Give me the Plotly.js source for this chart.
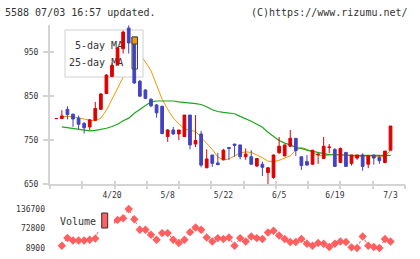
<!DOCTYPE html>
<html><head><meta charset="utf-8">
<script src="https://cdn.plot.ly/plotly-3.0.1.min.js"></script>
<style>html,body{margin:0;padding:0;background:#fff}#c{width:420px;height:259px}</style>
</head><body><div id="c"></div>
<script>
// ---- data ----
const tickDays   = [10, 20, 30, 40, 50, 60];
const tickLabels = ['4/20', '5/8', '5/22', '6/5', '6/19', '7/3'];
const openP  = [799,799,820,809,800,788,780,795,820,856,895,922,958,1005,983,884,864,843,830,827,758,773,764,758,807,741,764,687,716,698,705,733,741,739,712,712,691,695,676,665,721,714,736,754,712,701,695,717,708,733,729,699,722,697,709,716,695,716,711,699,727];
const highP  = [799,818,827,810,806,791,798,837,857,900,925,962,999,1011,985,887,866,845,832,828,775,780,773,807,807,807,771,729,716,721,730,733,741,739,731,727,708,701,689,717,757,739,773,754,712,716,727,718,757,741,731,733,722,716,716,720,716,716,716,725,782];
const lowP   = [799,798,797,780,775,765,773,794,819,855,893,921,947,947,878,848,843,825,801,763,746,762,750,757,729,734,688,686,689,694,704,705,712,706,705,694,689,668,648,662,719,713,734,714,682,692,694,696,708,720,690,698,690,692,705,680,686,694,696,697,727];
const closeP = [799,805,808,798,786,778,796,822,855,898,920,959,996,971,880,850,845,828,812,765,773,764,773,807,739,749,693,707,697,694,727,731,738,712,718,695,708,688,687,716,736,739,754,726,692,693,727,718,736,734,690,731,690,716,716,690,714,709,703,725,782];
const ma5    = [null,803,804,803,801,798,795,794,800,818,843,870,893,915,935,945,928,908,873,843,820,800,787,776,772,770,756,742,729,711,705,707,715,721,723,722,716,710,702,701,704,709,714,727,733,729,721,715,714,716,718,716,716,714,712,713,714,713,712,713,727];
const ma25   = [null,780,778,777,774,772,771,772,774,777,781,786,794,800,811,820,830,837,839,839,839,839,837,836,835,833,831,826,819,815,813,812,810,804,799,793,786,779,768,758,749,743,739,733,731,727,724,721,719,717,717,716,716,715,715,715,715,715,715,715,715];
const volume = [null,16400,41400,33600,33600,33600,35900,40100,85000,100000,95000,101000,106500,136700,103200,68400,68400,52100,35900,57700,57700,35900,25200,35900,60900,75900,68400,43400,30500,41300,38100,43500,16400,41300,30500,46700,41300,38100,59700,65200,50000,38100,28300,28300,38100,22900,16400,25100,22900,12100,22900,30500,28300,11000,8900,46700,16400,12100,8900,38100,30500];
const priceTicks = [650, 750, 850, 950];
const volTicks   = [8900, 72800, 136700];
const headerLeft  = '5588 07/03 16:57 updated.';
const headerRight = '(C)https://www.rizumu.net/';

// ---- geometry / style ----
const idx = openP.map((_, i) => i);
const W = 420, H = 259, L = 50, R = 15, T = 25, B = 11;
const PW = W - L - R, PH = H - T - B;
const px = x => (x - L) / PW;
const py = y => (H - B - y) / PH;
const xr = [-1.13, 62.6];
const yr = [650, 1012];
const FONT = 'DejaVu Sans Mono';
const AX = '#d4d4d4';
const TXT = '#333333';
const UP = '#dd0000', DOWN = '#4343c0';

const traces = [
  {type:'scatter', mode:'lines', x: idx, y: ma5, xaxis:'x', yaxis:'y',
   line:{color:'#f39800', width:1}, hoverinfo:'skip'},
  {type:'scatter', mode:'lines', x: idx, y: ma25, xaxis:'x', yaxis:'y',
   line:{color:'#1ea51e', width:1.2}, hoverinfo:'skip'},
  // legend box (pixel coordinates on a helper overlay axis)
  {type:'scatter', mode:'lines', x:[65,143,143,65,65], y:[30,30,77,77,30], xaxis:'x2', yaxis:'y2',
   fill:'toself', fillcolor:'#ffffff', line:{color:'#d0d0d0', width:1}, hoverinfo:'skip'},
  {type:'scatter', mode:'text', x:[75,69], y:[46,63], text:['5-day MA','25-day MA'], xaxis:'x2', yaxis:'y2',
   textposition:'middle right', textfont:{family:FONT, size:10, color:TXT}, hoverinfo:'skip'},
  {type:'candlestick', x: idx, open: openP, high: highP, low: lowP, close: closeP,
   xaxis:'x3', yaxis:'y3', whiskerwidth:0,
   increasing:{line:{color:UP, width:1}, fillcolor:UP},
   decreasing:{line:{color:DOWN, width:1}, fillcolor:DOWN}, hoverinfo:'skip'},
  {type:'scatter', mode:'lines+markers', x: idx, y: volume, xaxis:'x4', yaxis:'y4',
   line:{color:'#ff5f5f', width:1, dash:'dot'},
   marker:{symbol:'diamond', size:6.5, color:'#ff5f5f'}, cliponaxis:false, hoverinfo:'skip'}
];

const tickFont = {family:FONT, size:8, color:TXT};
const base = {showgrid:false, zeroline:false, fixedrange:true};
const layout = {
  width:W, height:H, margin:{l:L, r:R, t:T, b:B},
  paper_bgcolor:'#ffffff', plot_bgcolor:'rgba(0,0,0,0)',
  showlegend:false, boxgap:0.3,
  xaxis: Object.assign({}, base, {domain:[0,1], range:xr, anchor:'y', showline:true, linecolor:AX, linewidth:2,
    ticks:'', tickmode:'array', tickvals:tickDays, ticktext:tickLabels, tickfont:tickFont, ticklabelstandoff:2}),
  yaxis: Object.assign({}, base, {domain:[py(184),1], range:yr, anchor:'x', showline:true, linecolor:AX, linewidth:2,
    ticks:'outside', ticklen:5, tickwidth:2, tickcolor:AX, tickmode:'array', tickvals:priceTicks,
    tickfont:tickFont, ticklabelstandoff:3}),
  xaxis2: Object.assign({}, base, {overlaying:'x', anchor:'y2', side:'bottom', range:[L, L+PW],
    ticks:'inside', ticklen:3, tickwidth:2, tickcolor:AX, tickmode:'array',
    tickvals:[0,1,2,3,4,5,6,7,8,9,10,11].map(k => L + k*PW/11 + (k===11 ? -0.01 : 0)),
    showticklabels:false, showline:false}),
  yaxis2: Object.assign({}, base, {overlaying:'y', anchor:'x2', side:'left', range:[184, T],
    ticks:'', showticklabels:false, showline:false}),
  xaxis3: Object.assign({}, base, {overlaying:'x', anchor:'y3', side:'bottom', range:xr,
    ticks:'outside', ticklen:4, tickwidth:2, tickcolor:AX, tickmode:'array',
    tickvals:[0,1,2,3,4,5,6,7,8,9,10,11].map(k => xr[0] + k*(xr[1]-xr[0])/11 + (k===11 ? -0.0001 : 0)),
    showticklabels:false, showline:false, rangeslider:{visible:false}}),
  yaxis3: Object.assign({}, base, {overlaying:'y', anchor:'x3', side:'left', range:yr,
    ticks:'inside', ticklen:4, tickwidth:2, tickcolor:AX, tickmode:'array', tickvals:priceTicks,
    showticklabels:false, showline:false}),
  xaxis4: Object.assign({}, base, {domain:[0,1], anchor:'y4', range:xr, visible:false}),
  yaxis4: Object.assign({}, base, {domain:[0, py(209)], anchor:'x4', range:[volTicks[0], volTicks[2]],
    showline:false, ticks:'', tickmode:'array', tickvals:volTicks, ticktext:volTicks.map(String),
    tickfont:tickFont, ticklabelstandoff:4}),
  shapes: [
    // 5-day MA legend key
    {type:'rect', xref:'paper', yref:'paper', x0:px(132), x1:px(137.5), y0:py(69), y1:py(37),
     line:{color:'#444', width:1}, fillcolor:'rgba(0,0,0,0)', layer:'above'},
    {type:'rect', xref:'paper', yref:'paper', x0:px(132), x1:px(137.5), y0:py(44), y1:py(37),
     line:{color:'#444', width:1}, fillcolor:'#f39800', layer:'above'},
    // volume legend
    {type:'rect', xref:'paper', yref:'paper', x0:px(55), x1:px(114), y0:py(232), y1:py(211),
     line:{width:0}, fillcolor:'#ffffff', layer:'above'},
    {type:'rect', xref:'paper', yref:'paper', x0:px(101.7), x1:px(107.7), y0:py(228), y1:py(213),
     line:{color:'#333', width:1}, fillcolor:'#ff6060', layer:'above'}
  ],
  annotations: [
    {xref:'paper', yref:'paper', x:px(3), y:py(12), xanchor:'left', yanchor:'middle', showarrow:false,
     text:headerLeft, font:{family:FONT, size:10, color:TXT}},
    {xref:'paper', yref:'paper', x:px(410), y:py(12), xanchor:'right', yanchor:'middle', showarrow:false,
     text:headerRight, font:{family:FONT, size:10, color:TXT}},
    {xref:'paper', yref:'paper', x:px(58), y:py(221.7), xanchor:'left', yanchor:'middle', showarrow:false,
     text:'Volume', font:{family:FONT, size:10, color:TXT}}
  ]
};

Plotly.newPlot('c', traces, layout, {staticPlot:true, displayModeBar:false});
</script>
</body></html>
